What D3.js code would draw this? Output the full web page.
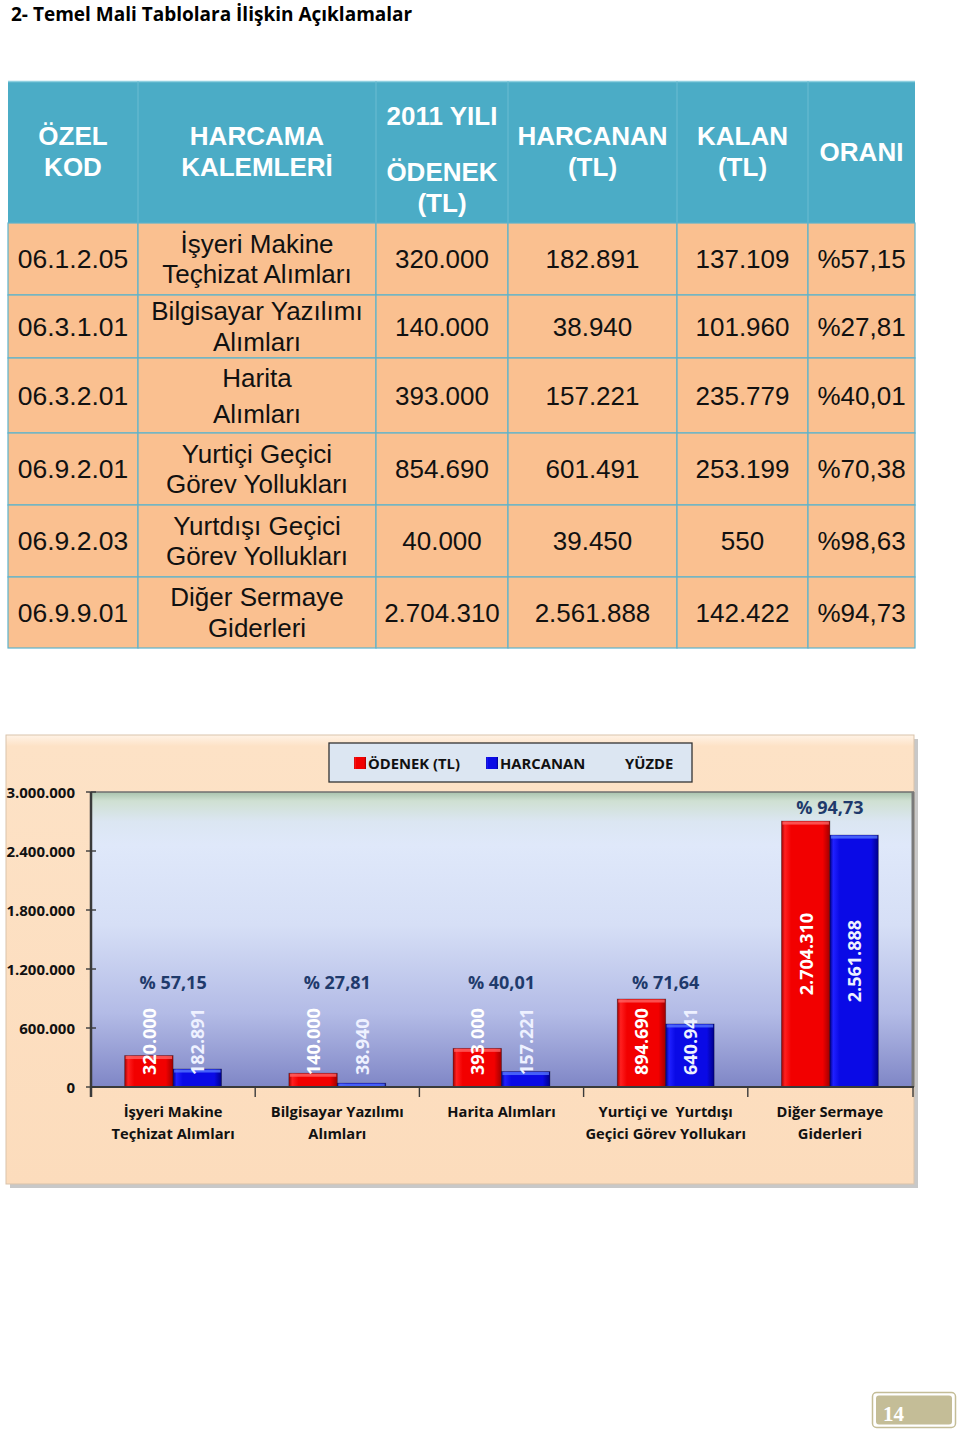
<!DOCTYPE html>
<html><head><meta charset="utf-8">
<script src="https://cdn.jsdelivr.net/npm/d3@7"></script>
<style>body{margin:0;background:#fff;} svg{display:block}</style>
</head><body>
<script>
// ---------- DATA ----------
const tableCodes = ["06.1.2.05","06.3.1.01","06.3.2.01","06.9.2.01","06.9.2.03","06.9.9.01"];
const tableItems = [["İşyeri Makine","Teçhizat Alımları"],["Bilgisayar Yazılımı","Alımları"],["Harita","Alımları"],["Yurtiçi Geçici","Görev Yollukları"],["Yurtdışı Geçici","Görev Yollukları"],["Diğer Sermaye","Giderleri"]];
const tableOdenek = ["320.000","140.000","393.000","854.690","40.000","2.704.310"];
const tableHarcanan = ["182.891","38.940","157.221","601.491","39.450","2.561.888"];
const tableKalan = ["137.109","101.960","235.779","253.199","550","142.422"];
const tableOrani = ["%57,15","%27,81","%40,01","%70,38","%98,63","%94,73"];
const tableHeaders = [["ÖZEL","KOD"],["HARCAMA","KALEMLERİ"],["2011 YILI","ÖDENEK","(TL)"],["HARCANAN","(TL)"],["KALAN","(TL)"],["ORANI"]];

const chartCategories = [["İşyeri Makine","Teçhizat Alımları"],["Bilgisayar Yazılımı","Alımları"],["Harita Alımları"],["Yurtiçi ve  Yurtdışı","Geçici Görev Yollukarı"],["Diğer Sermaye","Giderleri"]];
const chartOdenek = [320000,140000,393000,894690,2704310];
const chartHarcanan = [182891,38940,157221,640941,2561888];
const chartYuzde = ["% 57,15","% 27,81","% 40,01","% 71,64","% 94,73"];
const yTicks = [0,600000,1200000,1800000,2400000,3000000];
const legendLabels = ["ÖDENEK (TL)","HARCANAN","YÜZDE"];
const titleText = "2- Temel Mali Tablolara İlişkin Açıklamalar";
const pageNumber = "14";

// ---------- SETUP ----------
const W = 960, H = 1429;
const svg = d3.select("body").append("svg").attr("width", W).attr("height", H);
const defs = svg.append("defs");
const fmt = v => d3.format(",")(v).replace(/,/g, ".");
const CHART_FONT = "'Open Sans', sans-serif";
const TABLE_FONT = "'Liberation Sans', Arial, sans-serif";

// title
svg.append("text").attr("x", 11).attr("y", 21)
  .attr("font-family", CHART_FONT).attr("font-weight", 700).attr("font-size", 19)
  .attr("fill", "#000").text(titleText);

// ---------- TABLE ----------
const colX = [8,138,376,508,677,808,915];
const rowY = [81,223,295,358,433,505,577,648];
const tbl = svg.append("g");
// header
tbl.append("rect").attr("x", colX[0]).attr("y", rowY[0]).attr("width", colX[6]-colX[0]).attr("height", rowY[1]-rowY[0]).attr("fill", "#4BACC6");
tbl.append("line").attr("x1", colX[0]).attr("x2", colX[6]).attr("y1", rowY[0]+0.5).attr("y2", rowY[0]+0.5).attr("stroke", "#8fd0e0").attr("stroke-width", 1.5);
for (let c = 1; c < 6; c++) {
  tbl.append("line").attr("x1", colX[c]).attr("x2", colX[c]).attr("y1", rowY[0]).attr("y2", rowY[1]).attr("stroke", "#6cbcd2").attr("stroke-width", 1);
}
const headerLineY = [[136,167],[136,167],[116,172,203],[136,167],[136,167],[152]];
tableHeaders.forEach((lines, c) => {
  const cx = (colX[c] + colX[c+1]) / 2;
  lines.forEach((ln, i) => {
    tbl.append("text").attr("x", cx).attr("y", headerLineY[c][i])
      .attr("text-anchor", "middle").attr("dominant-baseline", "central")
      .attr("font-family", TABLE_FONT).attr("font-weight", 700).attr("font-size", 26)
      .attr("fill", "#fff").text(ln);
  });
});
// body
const rowsData = tableCodes.map((code, i) => [code, tableItems[i], tableOdenek[i], tableHarcanan[i], tableKalan[i], tableOrani[i]]);
rowsData.forEach((row, r) => {
  const y0 = rowY[r+1], y1 = rowY[r+2], cy = (y0 + y1) / 2;
  row.forEach((val, c) => {
    tbl.append("rect").attr("x", colX[c]).attr("y", y0).attr("width", colX[c+1]-colX[c]).attr("height", y1-y0)
      .attr("fill", "#FAC090").attr("stroke", "#5DB3CC").attr("stroke-width", 1.2);
    const cx = (colX[c] + colX[c+1]) / 2;
    const lines = Array.isArray(val) ? val : [val];
    const gap = (tableItems[r][0] === "Harita") ? 18 : 15.3;
    lines.forEach((ln, i) => {
      const off = lines.length === 1 ? 0 : (i === 0 ? -gap : gap);
      tbl.append("text").attr("x", cx).attr("y", cy + off)
        .attr("text-anchor", "middle").attr("dominant-baseline", "central")
        .attr("font-family", TABLE_FONT).attr("font-size", c === 0 ? 26.5 : 26)
        .attr("fill", "#111").text(ln);
    });
  });
});

// ---------- CHART ----------
const frame = {x: 6, y: 735, w: 908, h: 449};
const plot = {x0: 91, x1: 912, y0: 792, y1: 1087};

// gradients
const fg = defs.append("linearGradient").attr("id", "frameG").attr("x1", 0).attr("y1", 0).attr("x2", 0).attr("y2", 1);
fg.append("stop").attr("offset", 0).attr("stop-color", "#fff3e6");
fg.append("stop").attr("offset", 0.025).attr("stop-color", "#fde2c6");
fg.append("stop").attr("offset", 1).attr("stop-color", "#fcdcbc");
const pg = defs.append("linearGradient").attr("id", "plotG").attr("x1", 0).attr("y1", 0).attr("x2", 0).attr("y2", 1);
[[0,"#a9c3ad"],[0.03,"#cfe0d2"],[0.1,"#dbe6f2"],[0.18,"#dfe8fa"],[0.45,"#d6dff6"],[0.75,"#b3bbe6"],[1,"#7f86c6"]]
  .forEach(([o,c]) => pg.append("stop").attr("offset", o).attr("stop-color", c));
function barGrad(id, edge, mid, hi) {
  const g = defs.append("linearGradient").attr("id", id).attr("x1", 0).attr("y1", 0).attr("x2", 1).attr("y2", 0);
  [[0,edge],[0.07,hi],[0.2,mid],[0.85,mid],[1,edge]].forEach(([o,c]) => g.append("stop").attr("offset", o).attr("stop-color", c));
}
barGrad("redG", "#a00000", "#f20000", "#ff2020");
barGrad("blueG", "#00008a", "#0a0ae6", "#2020ff");

// frame shadow + frame
svg.append("rect").attr("x", frame.x+4).attr("y", frame.y+4).attr("width", frame.w).attr("height", frame.h).attr("fill", "#9a9a9a").attr("opacity", 0.55);
svg.append("rect").attr("x", frame.x).attr("y", frame.y).attr("width", frame.w).attr("height", frame.h)
  .attr("fill", "url(#frameG)").attr("stroke", "#d9c3ab").attr("stroke-width", 1);
// plot area
svg.append("rect").attr("x", plot.x0).attr("y", plot.y0).attr("width", plot.x1-plot.x0).attr("height", plot.y1-plot.y0)
  .attr("fill", "url(#plotG)");
svg.append("line").attr("x1", plot.x0).attr("x2", plot.x1+2).attr("y1", plot.y0).attr("y2", plot.y0).attr("stroke", "#6f6f6f").attr("stroke-width", 1.3);
svg.append("line").attr("x1", plot.x1+1).attr("x2", plot.x1+1).attr("y1", plot.y0).attr("y2", plot.y1).attr("stroke", "#7a7a7a").attr("stroke-width", 3);

// scales
const x = d3.scaleBand().domain(d3.range(chartCategories.length)).range([plot.x0, plot.x1]).padding(0);
const y = d3.scaleLinear().domain([0, 3000000]).range([plot.y1, plot.y0]);
const barW = x.bandwidth() * 0.295;

// bars
const cg = svg.append("g");
const series = [{vals: chartOdenek, grad: "redG", hi: "#ff6a6a", dx: -barW, labelFill: "#ffffff"},
                {vals: chartHarcanan, grad: "blueG", hi: "#5a7cff", dx: 0, labelFill: "#eef1ff"}];
series.forEach(s => {
  s.vals.forEach((v, i) => {
    const bx = x(i) + x.bandwidth()/2 + s.dx;
    cg.append("rect").attr("x", bx).attr("y", y(v)).attr("width", barW).attr("height", y(0) - y(v))
      .attr("fill", `url(#${s.grad})`).attr("stroke", "rgba(0,0,0,0.35)").attr("stroke-width", 0.8);
    cg.append("rect").attr("x", bx + 1).attr("y", y(v) + 0.5).attr("width", barW - 2).attr("height", Math.min(3, y(0) - y(v) - 1))
      .attr("fill", s.hi).attr("opacity", 0.75);
  });
});

// axes
const axG = svg.append("g");
axG.append("line").attr("x1", plot.x0).attr("x2", plot.x0).attr("y1", plot.y0).attr("y2", plot.y1 + 10).attr("stroke", "#3a3a3a").attr("stroke-width", 2.5);
axG.append("line").attr("x1", plot.x0).attr("x2", plot.x1 + 2).attr("y1", plot.y1).attr("y2", plot.y1).attr("stroke", "#3a3a3a").attr("stroke-width", 2.2);
yTicks.forEach(t => {
  axG.append("line").attr("x1", plot.x0 - 5).attr("x2", plot.x0 + 5).attr("y1", y(t)).attr("y2", y(t)).attr("stroke", "#3a3a3a").attr("stroke-width", 1.4);
  axG.append("text").attr("x", 75).attr("y", y(t)).attr("text-anchor", "end").attr("dominant-baseline", "central")
    .attr("font-family", CHART_FONT).attr("font-weight", 700).attr("font-size", 15).attr("fill", "#111").text(fmt(t));
});
d3.range(1, chartCategories.length + 1).forEach(i => {
  const tx = i < chartCategories.length ? x(i) : plot.x1 + 1;
  axG.append("line").attr("x1", tx).attr("x2", tx).attr("y1", plot.y1).attr("y2", plot.y1 + 10).attr("stroke", "#3a3a3a").attr("stroke-width", 1.4);
});
// category labels
chartCategories.forEach((lines, i) => {
  lines.forEach((ln, k) => {
    axG.append("text").attr("x", x(i) + x.bandwidth()/2).attr("y", 1111 + k * 22)
      .attr("text-anchor", "middle").attr("dominant-baseline", "central")
      .attr("font-family", CHART_FONT).attr("font-weight", 700).attr("font-size", 14.7)
      .attr("fill", "#111").style("white-space", "pre").text(ln);
  });
});

// value labels (rotated)
const lg = svg.append("g");
series.forEach(s => {
  s.vals.forEach((v, i) => {
    const cx = x(i) + x.bandwidth()/2 + s.dx + barW/2;
    const t = lg.append("text").attr("text-anchor", "start").attr("dominant-baseline", "central")
      .attr("font-family", CHART_FONT).attr("font-weight", 700).attr("font-size", 18)
      .attr("fill", s.labelFill).text(fmt(v));
    const len = t.node().getComputedTextLength();
    const bottom = Math.min((y(v) + y(0)) / 2 + len / 2, y(0) - 12);
    t.attr("transform", `translate(${cx},${bottom}) rotate(-90)`);
  });
});
// percent labels
chartYuzde.forEach((p, i) => {
  const top = y(Math.max(chartOdenek[i], chartHarcanan[i]));
  const py = Math.min(y(1070000), top - 14);
  lg.append("text").attr("x", x(i) + x.bandwidth()/2).attr("y", py)
    .attr("text-anchor", "middle").attr("dominant-baseline", "central")
    .attr("font-family", CHART_FONT).attr("font-weight", 700).attr("font-size", 18)
    .attr("fill", "#1f3a6b").text(p);
});

// legend
const leg = svg.append("g");
leg.append("rect").attr("x", 329).attr("y", 743).attr("width", 363).attr("height", 39)
  .attr("fill", "#dce6f2").attr("stroke", "#333").attr("stroke-width", 1.3);
const legItems = [{x: 354, fill: "url(#redG)", label: legendLabels[0]},
                  {x: 486, fill: "url(#blueG)", label: legendLabels[1]},
                  {x: 611, fill: null, label: legendLabels[2]}];
legItems.forEach(it => {
  if (it.fill) leg.append("rect").attr("x", it.x).attr("y", 757).attr("width", 12).attr("height", 12).attr("fill", it.fill);
  leg.append("text").attr("x", it.x + 14).attr("y", 762.5).attr("dominant-baseline", "central")
    .attr("font-family", CHART_FONT).attr("font-weight", 700).attr("font-size", 14.8).attr("fill", "#111").text(it.label);
});

// page number
const pn = svg.append("g");
pn.append("rect").attr("x", 872.5).attr("y", 1392.5).attr("width", 83).attr("height", 35).attr("rx", 4)
  .attr("fill", "#fff").attr("stroke", "#c4bd97").attr("stroke-width", 1.5);
pn.append("rect").attr("x", 876).attr("y", 1395.5).attr("width", 76).attr("height", 29).attr("rx", 3).attr("fill", "#c4bd97");
pn.append("text").attr("x", 883).attr("y", 1421).attr("font-family", "'Liberation Serif', 'DejaVu Serif', serif")
  .attr("font-weight", 700).attr("font-size", 21).attr("fill", "#fff").text(pageNumber);
</script>
</body></html>
